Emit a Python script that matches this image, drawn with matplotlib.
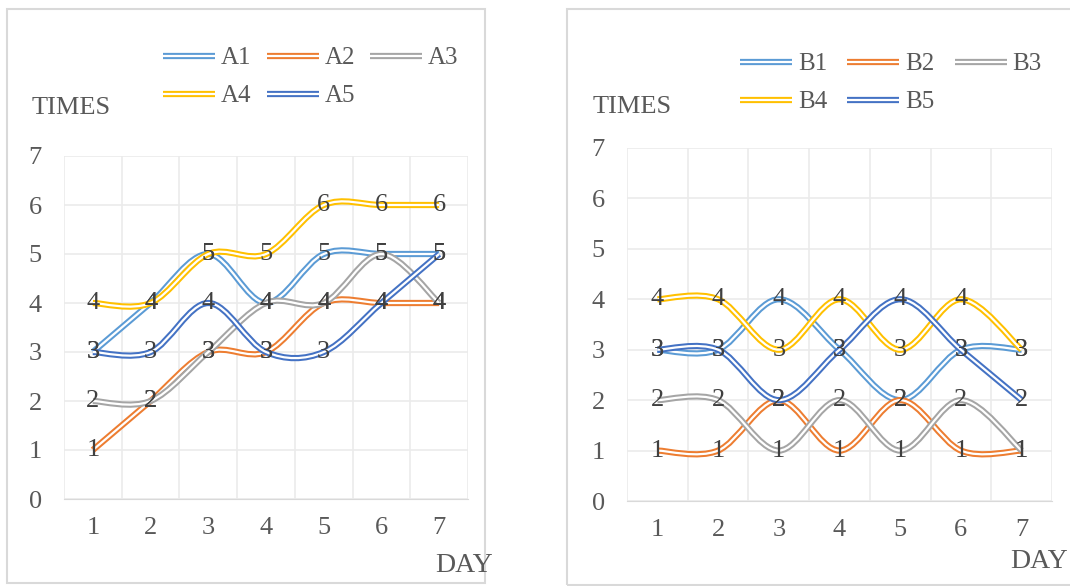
import numpy as np
import matplotlib
matplotlib.use('Agg')
import matplotlib.pyplot as plt
from matplotlib.path import Path
from matplotlib.patches import PathPatch, Rectangle
from matplotlib.lines import Line2D

plt.rcParams['font.family'] = ['Liberation Serif', 'DejaVu Serif']

# data
days = [1, 2, 3, 4, 5, 6, 7]
a_names = ['A1', 'A2', 'A3', 'A4', 'A5']
a1 = [3, 4, 5, 4, 5, 5, 5]
a2 = [1, 2, 3, 3, 4, 4, 4]
a3 = [2, 2, 3, 4, 4, 5, 4]
a4 = [4, 4, 5, 5, 6, 6, 6]
a5 = [3, 3, 4, 3, 3, 4, 5]
b_names = ['B1', 'B2', 'B3', 'B4', 'B5']
b1 = [3, 3, 4, 3, 2, 3, 3]
b2 = [1, 1, 2, 1, 2, 1, 1]
b3 = [2, 2, 1, 2, 1, 2, 1]
b4 = [4, 4, 3, 4, 3, 4, 3]
b5 = [3, 3, 2, 3, 4, 3, 2]
yticks = [0, 1, 2, 3, 4, 5, 6, 7]

colors = ['#5B9BD5', '#ED7D31', '#A5A5A5', '#FFC000', '#4472C4']
text_gray = '#595959'
label_gray = '#404040'
W, H = 1070, 586
LW_OUT, LW_IN = 4.5, 1.6


def smooth_path(xs, ys):
    # cubic bezier through the points (Catmull-Rom style smoothing)
    p = np.column_stack([xs, ys]).astype(float)
    n = len(p)
    verts = [p[0]]
    codes = [Path.MOVETO]
    for i in range(n - 1):
        p0 = p[max(i - 1, 0)]
        p1 = p[i]
        p2 = p[i + 1]
        p3 = p[min(i + 2, n - 1)]
        c1 = p1 + (p2 - p0) / 6.0
        c2 = p2 - (p3 - p1) / 6.0
        verts += [c1, c2, p2]
        codes += [Path.CURVE4] * 3
    return Path(verts, codes)


def double_line(ax, xs, ys, color, z):
    path = smooth_path(xs, ys)
    ax.add_patch(PathPatch(path, facecolor='none', edgecolor=color, lw=LW_OUT,
                           zorder=z, capstyle='butt', joinstyle='round'))
    ax.add_patch(PathPatch(path, facecolor='none', edgecolor='white', lw=LW_IN,
                           zorder=z + 0.1, capstyle='butt', joinstyle='round'))


def panel(box, frame, series, names, legend_anchor, colspace, times_xy, day_xy):
    # chart border
    fig.patches.append(Rectangle((frame[0] / W, 1 - frame[3] / H),
                                 (frame[2] - frame[0]) / W, (frame[3] - frame[1]) / H,
                                 transform=fig.transFigure, fill=False,
                                 edgecolor='#D9D9D9', lw=1.5))
    l, t, r, b = box
    ax = fig.add_axes([l / W, 1 - b / H, (r - l) / W, (b - t) / H])
    ax.set_xlim(0.5, 7.5)
    ax.set_ylim(0, 7)
    ax.set_yticks(yticks)
    ax.set_xticks(days)
    ax.set_xticks(np.arange(0.5, 8.0, 1.0), minor=True)
    ax.grid(True, which='major', axis='y', color='#EBEBEB', lw=1.2)
    ax.grid(True, which='minor', axis='x', color='#EBEBEB', lw=1.2)
    ax.tick_params(which='both', length=0)
    ax.tick_params(axis='y', pad=16, labelsize=19, labelcolor=text_gray)
    ax.tick_params(axis='x', pad=13, labelsize=19, labelcolor=text_gray)
    for s in ['top', 'right', 'left']:
        ax.spines[s].set_visible(False)
    ax.spines['bottom'].set_color('#D9D9D9')
    ax.set_axisbelow(True)

    handles = []
    for k, (ys, c) in enumerate(zip(series, colors)):
        double_line(ax, days, ys, c, 2 + k)
        handles.append((Line2D([], [], color=c, lw=LW_OUT, solid_capstyle='butt'),
                        Line2D([], [], color='white', lw=LW_IN, solid_capstyle='butt')))
    for ys in series:
        for x, y in zip(days, ys):
            ax.text(x, y, str(y), ha='center', va='center', fontsize=19,
                    color=label_gray, zorder=10)

    # legend fills column-wise, so reorder to read 1 2 3 / 4 5 by rows
    order = [0, 3, 1, 4, 2]
    fig.legend([handles[i] for i in order], [names[i] for i in order],
               loc='upper left',
               bbox_to_anchor=(legend_anchor[0] / W, 1 - legend_anchor[1] / H),
               ncol=3, frameon=False, fontsize=18, labelcolor=text_gray,
               handlelength=2.08, handletextpad=0.24, columnspacing=colspace,
               labelspacing=0.62, borderaxespad=0, borderpad=0)
    fig.text(times_xy[0] / W, 1 - times_xy[1] / H, 'TIMES', fontsize=19,
             color=text_gray, ha='left', va='center')
    fig.text(day_xy[0] / W, 1 - day_xy[1] / H, 'DAY', fontsize=20,
             color=text_gray, ha='center', va='center')
    return ax


fig = plt.figure(figsize=(W / 100, H / 100), dpi=100)
fig.patch.set_facecolor('white')

panel((64, 156, 468, 499), (7, 9, 485, 583), [a1, a2, a3, a4, a5], a_names,
      (163, 47), 0.6, (32, 108), (464, 565))
panel((627, 148, 1052, 501), (567, 9, 1085, 585), [b1, b2, b3, b4, b5], b_names,
      (740, 53), 0.8, (593, 107), (1039, 561))

fig.savefig('out.png', dpi=100)
